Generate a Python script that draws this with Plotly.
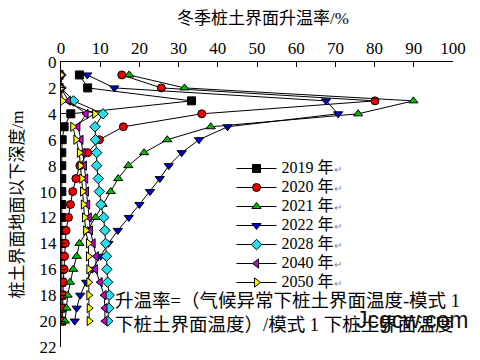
import plotly.graph_objects as go

depth = list(range(1, 21))

y2019 = [4.7, 6.8, 33.3, 2.5, 0.8, 0.3, 0.2, 0.2, 0.2, 0.2, 0.2, 0.2, 0.2, 0.2, 0.2, 0.2, 0.2, 0.2, 0.2, 0.2]
y2020 = [15.5, 25.6, 80.1, 35.9, 15.9, 9.8, 6.8, 4.8, 3.8, 3.0, 2.4, 1.9, 1.3, 1.1, 0.9, 0.8, 0.6, 0.5, 0.4, 0.4]
y2021 = [17.4, 31.5, 89.9, 75.8, 38.2, 27.1, 21.2, 17.2, 14.6, 12.7, 10.6, 8.8, 6.8, 4.7, 4.0, 3.1, 2.3, 1.7, 1.4, 1.0]
y2022 = [6.7, 13.6, 67.6, 70.7, 42.5, 35.2, 30.8, 27.5, 25.2, 22.7, 20.0, 17.3, 14.5, 12.1, 10.1, 8.0, 6.4, 4.9, 4.0, 3.5]
y2028 = [0.0, 0.0, 3.2, 10.7, 8.7, 8.8, 9.1, 9.1, 9.5, 9.8, 10.2, 10.9, 11.2, 11.4, 11.6, 11.7, 11.9, 12.3, 12.2, 11.9]
y2040 = [0.0, 0.0, 1.9, 6.4, 4.3, 5.1, 5.6, 6.0, 6.3, 6.5, 6.8, 7.2, 7.5, 8.2, 9.0, 8.8, 10.0, 11.0, 11.2, 11.2]
y2050 = [0.0, 0.0, 0.4, 8.6, 3.0, 3.8, 4.7, 4.9, 5.3, 5.5, 5.7, 6.0, 6.3, 7.0, 7.0, 7.1, 7.1, 7.1, 7.2, 7.2]

years = ["2019", "2020", "2021", "2022", "2028", "2040", "2050"]
values = [y2019, y2020, y2021, y2022, y2028, y2040, y2050]
symbols = ["square", "circle", "triangle-up", "triangle-down", "diamond", "triangle-left", "triangle-right"]
colors = ["#000000", "#ee0000", "#00bb00", "#0000cc", "#22e0ee", "#cc00cc", "#ffff00"]

x_ticks = list(range(0, 101, 10))
y_ticks = list(range(0, 23, 2))

num_font = "Liberation Serif, Noto Sans CJK SC"

fig = go.Figure()
for yr, vals, sym, col in zip(years, values, symbols, colors):
    fig.add_trace(go.Scatter(
        x=vals, y=depth, mode="lines+markers",
        name="<span style='font-size:16px'>" + yr + " 年</span><span style='color:#888888;font-size:10px'>↵</span>",
        line=dict(color="black", width=1),
        marker=dict(symbol=sym, size=8, color=col, line=dict(color="black", width=1)),
    ))

fig.update_layout(
    width=480, height=360,
    margin=dict(l=61, r=27, t=62, b=13, autoexpand=False),
    paper_bgcolor="white", plot_bgcolor="white",
    font=dict(family=num_font, size=15, color="black"),
    showlegend=True,
    legend=dict(
        x=0.435, y=(347 - 154) / 285, xanchor="left", yanchor="top",
        bgcolor="rgba(0,0,0,0)", borderwidth=0,
        font=dict(family=num_font, size=11, color="black"),
        tracegroupgap=0, itemwidth=40,
    ),
    xaxis=dict(
        side="top", range=[0, 100], tickvals=x_ticks,
        showline=True, linecolor="black", linewidth=1,
        ticks="inside", ticklen=5, tickcolor="black",
        showgrid=False, zeroline=False, automargin=False,
        tickfont=dict(family=num_font, size=17),
    ),
    yaxis=dict(
        range=[22, 0], tickvals=y_ticks,
        showline=True, linecolor="black", linewidth=1,
        ticks="inside", ticklen=5, tickcolor="black",
        showgrid=False, zeroline=False, automargin=False,
        tickfont=dict(family=num_font, size=17),
    ),
)

fig.add_annotation(text="冬季桩土界面升温率/%", xref="paper", yref="paper",
                   x=0.515, y=1.0, yshift=44, xanchor="center", yanchor="middle",
                   showarrow=False, font=dict(family=num_font, size=17))
fig.add_annotation(text="桩土界面地面以下深度/m", xref="paper", yref="paper",
                   x=0, xshift=-44, y=0.5, xanchor="center", yanchor="middle",
                   textangle=-90, showarrow=False, font=dict(family=num_font, size=17))
fig.add_annotation(text="升温率=（气候异常下桩土界面温度-模式 1", xref="paper", yref="paper",
                   x=(113 - 61) / 392, y=(347 - 301) / 285, xanchor="left", yanchor="middle",
                   showarrow=False, font=dict(family=num_font, size=18.5))
fig.add_annotation(text="下桩土界面温度）/模式 1 下桩土界面温度", xref="paper", yref="paper",
                   x=(113 - 61) / 392, y=(347 - 325) / 285, xanchor="left", yanchor="middle",
                   showarrow=False, font=dict(family=num_font, size=18.5))
fig.add_annotation(text="Jcgcw.com", xref="paper", yref="paper",
                   x=(354 - 61) / 392, y=(347 - 320) / 285, xanchor="left", yanchor="middle",
                   showarrow=False, font=dict(family="Liberation Sans", size=23, color="#111111"))

fig.write_html("out.html", config={"displayModeBar": False},
               post_script="document.body.style.margin='0';document.body.style.overflow='hidden';")
